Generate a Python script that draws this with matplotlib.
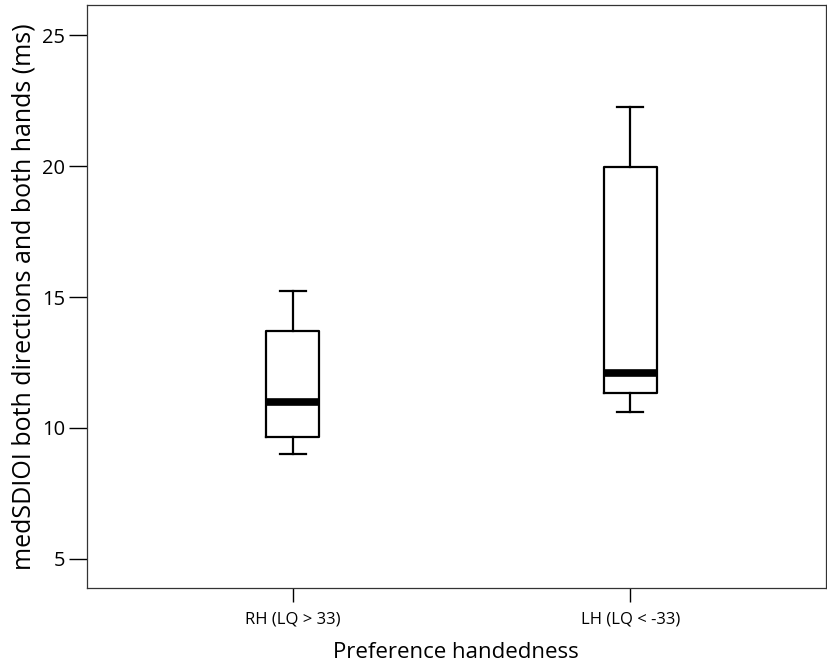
import matplotlib
matplotlib.use('Agg')
import matplotlib.pyplot as plt

# data (five-number summaries per group)
groups = ['RH (LQ > 33)', 'LH (LQ < -33)']
whisker_low = [9.00, 10.60]
q1 = [9.65, 11.35]
median = [10.98, 12.11]
q3 = [13.70, 19.97]
whisker_high = [15.23, 22.24]

plt.rcParams['font.family'] = ['Open Sans', 'DejaVu Sans']

fig = plt.figure(figsize=(8.28, 6.66), dpi=100)
ax = fig.add_axes([0.1047, 0.1167, 0.8929, 0.8758])

stats = []
for i, name in enumerate(groups):
    stats.append({'label': name, 'whislo': whisker_low[i], 'q1': q1[i], 'med': median[i],
                  'q3': q3[i], 'whishi': whisker_high[i], 'fliers': []})

ax.bxp(stats, positions=[1, 2], widths=0.157, capwidths=0.077, showfliers=False,
       boxprops=dict(color='black', linewidth=1.6),
       whiskerprops=dict(color='black', linewidth=1.6),
       capprops=dict(color='black', linewidth=1.6),
       medianprops=dict(color='black', linewidth=5.5, solid_capstyle='butt'))

ax.set_xlim(0.39, 2.58)
ax.set_ylim(3.88, 26.15)
ax.set_yticks([5, 10, 15, 20, 25])
ax.set_xticks([1, 2])
ax.set_xticklabels(groups, fontsize=12)
ax.tick_params(axis='y', length=13, width=1, labelsize=14.5, pad=2.5)
ax.tick_params(axis='x', length=10, width=1, pad=7)

for s in ax.spines.values():
    s.set_linewidth(0.9)
    s.set_color('#333333')

ax.set_ylabel('medSDIOI both directions and both hands (ms)', fontsize=18, labelpad=4)
ax.set_xlabel('Preference handedness', fontsize=16, labelpad=10)

fig.savefig('out.png', dpi=100)
